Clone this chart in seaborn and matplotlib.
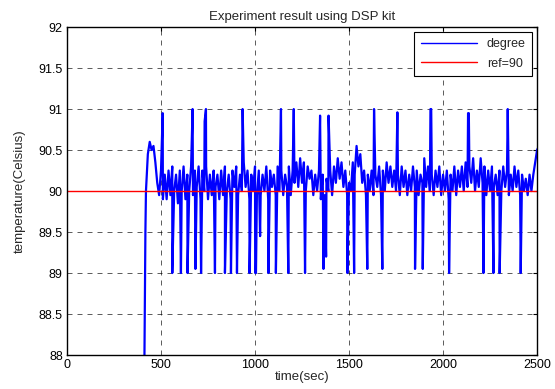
import numpy as np
import pandas as pd
import matplotlib
matplotlib.use("Agg")
import matplotlib.pyplot as plt
import seaborn as sns

# regular readings, every 10 s starting at 420 s (one row = 100 s)
base_start = 420
base_step = 10
base_values = [
    90.0, 90.45, 90.6, 90.5, 90.55, 90.35, 90.1, 89.95, 90.25, 89.9,
    90.2, 89.9, 90.25, 89.95, 90.3, 90.0, 90.2, 89.85, 90.25, 90.0,
    90.3, 89.9, 90.2, 90.0, 90.3, 89.95, 90.25, 90.05, 90.3, 89.9,
    90.25, 90.0, 90.3, 89.9, 90.2, 89.95, 90.25, 90.05, 90.2, 89.9,
    90.25, 89.95, 90.3, 90.0, 90.2, 89.9, 90.25, 90.05, 90.3, 89.95,
    90.2, 90.0, 90.35, 90.05, 90.25, 89.9, 90.2, 90.0, 90.3, 89.95,
    90.25, 89.95, 90.2, 90.0, 90.3, 89.9, 90.25, 90.05, 90.2, 89.95,
    90.3, 90.0, 90.25, 89.95, 90.2, 90.05, 90.3, 89.95, 90.25, 90.1,
    90.35, 90.05, 90.4, 90.1, 90.35, 90.0, 90.3, 90.15, 90.25, 89.95,
    90.2, 90.0, 90.25, 89.9, 90.2, 89.95, 90.15, 90.0, 90.25, 89.95,
    90.3, 90.1, 90.4, 90.15, 90.35, 90.05, 90.25, 89.95, 90.1, 90.0,
    90.35, 90.2, 90.55, 90.3, 90.45, 90.1, 90.25, 89.95, 90.2, 90.0,
    90.25, 89.95, 90.2, 90.05, 90.3, 89.95, 90.25, 90.0, 90.35, 90.1,
    90.3, 90.05, 90.25, 90.0, 90.2, 89.95, 90.3, 90.05, 90.25, 89.95,
    90.2, 90.0, 90.3, 90.05, 90.25, 89.95, 90.2, 90.1, 90.4, 90.05,
    90.3, 90.0, 90.2, 89.95, 90.25, 90.05, 90.3, 89.95, 90.2, 90.0,
    90.25, 89.9, 90.2, 90.0, 90.3, 89.95, 90.25, 90.05, 90.3, 90.0,
    90.35, 90.05, 90.3, 90.1, 90.4, 90.0, 90.25, 90.05, 90.4, 90.1,
    90.3, 89.95, 90.25, 90.0, 90.3, 90.05, 90.2, 89.95, 90.25, 90.0,
    90.3, 90.05, 90.25, 89.95, 90.2, 90.0, 90.3, 90.05, 90.25, 89.95,
    90.2, 90.0, 90.15, 89.95, 90.2, 90.0, 90.2, 90.35, 90.5, 90.55,
]

# start-up ramp
start_times = [408, 412, 413, 415, 417]
start_values = [87.8, 88.0, 88.3, 89.0, 89.5]

# short excursions (upward and downward spikes)
spike_times = [509, 668, 732, 739, 934, 1138, 1206, 1346, 1391, 1633, 1757,
               1933, 1937, 2133, 2137, 2344,
               560, 606, 641, 683, 713, 787, 840, 872, 904, 971, 1001, 1005,
               1027, 1071, 1111, 1177, 1266, 1364, 1378, 1491, 1527, 1597,
               1677, 1851, 1892, 2032, 2215, 2268, 2301, 2413]
spike_values = [90.95, 91.0, 90.85, 91.0, 91.0, 91.0, 91.0, 90.92, 90.92, 91.0, 90.96,
                91.0, 91.0, 90.95, 90.95, 91.0,
                89.0, 89.0, 89.0, 89.05, 89.0, 89.0, 89.0, 89.0, 89.0, 89.0, 89.0, 89.0,
                89.45, 89.0, 89.0, 89.0, 89.0, 89.05, 89.2, 89.0, 89.0, 89.05,
                89.05, 89.05, 89.05, 89.0, 89.0, 89.0, 89.0, 89.0]

ref_value = 90
x_ticks = [0, 500, 1000, 1500, 2000, 2500]
y_ticks = [88, 88.5, 89, 89.5, 90, 90.5, 91, 91.5, 92]


def build_series():
    base_times = base_start + base_step * np.arange(len(base_values))
    t = np.concatenate([start_times, base_times, spike_times])
    v = np.concatenate([start_values, base_values, spike_values])
    order = np.argsort(t, kind="stable")
    return pd.DataFrame({"time": t[order], "temp": v[order]})


def main():
    sns.set_style("white")
    plt.rcParams['font.family'] = ['Liberation Sans', 'DejaVu Sans']

    df = build_series()
    ref = pd.DataFrame({"time": [0, 2500], "temp": [ref_value, ref_value]})

    fig = plt.figure(figsize=(5.55, 3.89), dpi=100)
    ax = fig.add_axes([0.1207, 0.0874, 0.847, 0.843])

    sns.lineplot(data=df, x="time", y="temp", ax=ax, color="#0000ff",
                 linewidth=1.6, sort=False, estimator=None, label="degree")
    sns.lineplot(data=ref, x="time", y="temp", ax=ax, color="#ff0000",
                 linewidth=1.0, sort=False, estimator=None, label="ref=90")

    ax.set_xlim(0, 2500)
    ax.set_ylim(88, 92)
    ax.set_xticks(x_ticks)
    ax.set_yticks(y_ticks)
    ax.set_yticklabels([f"{v:g}" for v in y_ticks])
    ax.tick_params(direction="in", length=3, labelsize=9, colors="black",
                   top=True, right=True, pad=3)
    ax.grid(True, color="black", linestyle=(0, (6, 6)), linewidth=0.6, alpha=0.75)
    for s in ax.spines.values():
        s.set_color("black")
        s.set_linewidth(1.0)

    ax.set_title("Experiment result using DSP kit", fontsize=9.5, pad=5)
    ax.set_xlabel("time(sec)", fontsize=9.5, labelpad=0)
    ax.set_ylabel("temperature(Celsius)", fontsize=9.5, labelpad=9)

    leg = ax.legend(loc="upper right", fontsize=9, fancybox=False,
                    framealpha=1, edgecolor="black", borderaxespad=0.4,
                    handlelength=4.5, borderpad=0.5, labelspacing=0.6)
    leg.get_frame().set_linewidth(0.8)
    for line in leg.get_lines():
        line.set_linewidth(1.0)

    fig.savefig("out.png", dpi=100)


if __name__ == "__main__":
    main()
